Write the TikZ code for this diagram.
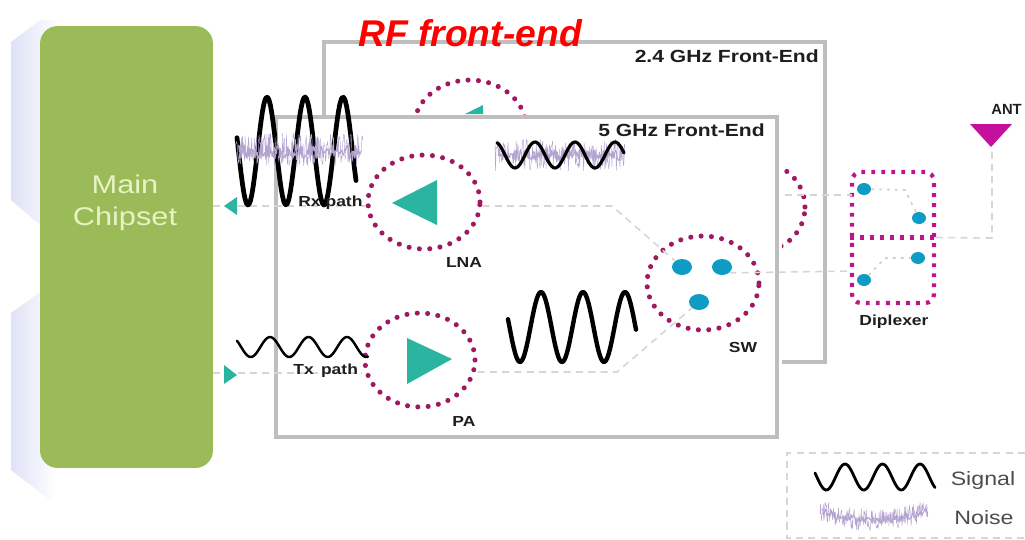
\documentclass[tikz,border=0pt]{standalone}
\usepackage{fontspec}
\setmainfont{Liberation Sans}
\newfontfamily\widefont[FakeStretch=1.2]{Liberation Sans}
\usetikzlibrary{shapes.geometric}
\definecolor{chipgreen}{RGB}{155,187,89}
\definecolor{chiptext}{RGB}{232,242,196}
\definecolor{shadeblue}{RGB}{222,226,245}
\definecolor{framegray}{RGB}{190,190,190}
\definecolor{pathgray}{RGB}{214,214,214}
\definecolor{ampteal}{RGB}{43,181,160}
\definecolor{dotpink}{RGB}{158,24,98}
\definecolor{dipink}{RGB}{190,20,140}
\definecolor{antpink}{RGB}{196,16,156}
\definecolor{switchblue}{RGB}{14,156,196}
\definecolor{noisepurple}{RGB}{180,165,208}
\definecolor{labelink}{RGB}{30,30,30}
\tikzset{
  chipbox/.style={fill=chipgreen, rounded corners=10pt, minimum width=3.46cm,
    minimum height=8.84cm, inner sep=0pt},
  chiplabel/.style={text=chiptext, align=center, inner sep=0pt,
    font=\widefont\fontsize{14.6}{18.2}\selectfont},
  framebox/.style={draw=framegray, line width=2.3pt, minimum width=10.04cm,
    minimum height=6.4cm, inner sep=0pt},
  ampring/.style={ellipse, draw=dotpink, line width=2.9pt, line cap=round,
    dash pattern=on 0pt off 5.9pt, inner sep=0pt, minimum width=2.24cm,
    minimum height=1.88cm},
  ampfill/.style={fill=ampteal},
  swdot/.style={ellipse, fill=switchblue, inner sep=0pt, minimum width=0.4cm,
    minimum height=0.32cm},
  dipdot/.style={ellipse, fill=switchblue, inner sep=0pt, minimum width=0.28cm,
    minimum height=0.24cm},
  dipline/.style={draw=dipink, line width=2.4pt, dash pattern=on 2.2pt off 3.5pt},
  pathline/.style={draw=pathgray, line width=0.9pt, dash pattern=on 4pt off 3pt},
  innerline/.style={draw=orange!15!pathgray, line width=0.9pt, dash pattern=on 1.5pt off 3pt},
  sigwave/.style={draw=black, line join=round, line cap=round},
  noiseedge/.style={draw=noisepurple, line width=0.25pt, line join=bevel},
  noisecore/.style={draw=noisepurple, line width=0.6pt, line join=bevel},
  blacklabel/.style={text=labelink, inner sep=0pt,
    font=\widefont\bfseries\fontsize{8.3}{10}\selectfont},
  titlelabel/.style={text=labelink, inner sep=0pt,
    font=\widefont\bfseries\fontsize{10}{12}\selectfont},
  keylabel/.style={text=black!70, inner sep=0pt, font=\widefont\fontsize{11}{13}\selectfont},
}
\begin{document}
\begin{tikzpicture}[x=0.02cm,y=-0.02cm]
  \useasboundingbox (0,0) rectangle (1025,539);
  \pgfmathsetseed{11}
  % pale blocks behind the chipset
  \shade[left color=shadeblue, right color=white] (11,42) -- (40,20) -- (60,20) -- (60,225) -- (40,225) -- (11,200) -- cycle;
  \shade[left color=shadeblue, right color=white] (11,313) -- (40,292) -- (56,292) -- (56,500) -- (50,500) -- (11,470) -- cycle;
  \node[chipbox] (chip) at (126.5,247) {};
  \node[chiplabel] (chipname) at (125,203) {Main\\Chipset};
  % 2.4 GHz front-end, mostly hidden
  \node[framebox] (backframe) at (574.5,202) {};
  \node[ampring] (backlna) at (470,127) {};
  \node[ampring, minimum width=1.76cm, minimum height=1.76cm] (backsw) at (761,207) {};
  \fill[ampfill] (465,114) -- (483,105) -- (483,114) -- cycle;
  \fill[white] (272,115) rectangle (782,441);
  % 5 GHz front-end
  \node[framebox] (frontframe) at (526.5,277) {};
  \node[titlelabel, anchor=east] (backname) at (819,56) {2.4 GHz Front-End};
  \node[titlelabel, anchor=east] (frontname) at (765,130) {5 GHz Front-End};
  \node[anchor=west, inner sep=0pt, text=red, font=\bfseries\itshape\fontsize{21.2}{24}\selectfont] (title) at (358,33) {RF front-end};
  % amplifiers and switch
  \node[ampring] (lna) at (424,202) {};
  \node[ampring, minimum width=2.2cm] (pa) at (420,360) {};
  \node[ampring] (sw) at (703,283) {};
  \node[swdot] (swa) at (682,267) {};
  \node[swdot] (swb) at (722,267) {};
  \node[swdot] (swc) at (699,302) {};
  % diplexer
  \node[dipdot] (dipa) at (864,189) {};
  \node[dipdot] (dipb) at (919,218) {};
  \node[dipdot] (dipc) at (918,258) {};
  \node[dipdot] (dipd) at (864,280) {};
  \node[dipline, rounded corners=5pt, minimum width=1.64cm, minimum height=2.62cm, inner sep=0pt] (dip) at (893,237.5) {};
  \draw[dipline] (dip.west) -- (dip.east);
  \coordinate (dipaturn) at (905,190);
  \coordinate (dipdturn) at (885,258);
  \draw[innerline] (dipa) -- (dipaturn) -- (dipb);
  \draw[innerline] (dipd) -- (dipdturn) -- (dipc);
  % signal paths
  \coordinate (rxout) at (213,206);
  \coordinate (txin) at (213,373);
  \coordinate (lnaturn) at (612,206);
  \coordinate (paturn) at (617,372);
  \coordinate (backtap) at (785,195);
  \coordinate (dipina) at (852,195);
  \coordinate (dipinb) at (852,271);
  \coordinate (antturn) at (992,238);
  \coordinate (anttap) at (992,150);
  \draw[pathline] (rxout) -- (rxout -| lna.west);
  \draw[pathline] (txin) -- (txin -| pa.west);
  \draw[pathline] (lnaturn -| lna.east) -- (lnaturn) -- (swa);
  \draw[pathline] (paturn -| pa.east) -- (paturn) -- (swc);
  \draw[pathline] (backtap) -- (dipina);
  \draw[pathline] (swb.south east) -- (dipinb);
  \draw[pathline] (dip.east) -- (antturn) -- (anttap);
  % arrowheads and antenna
  \fill[ampfill] (392,203) -- (437,180) -- (437,225) -- cycle;
  \fill[ampfill] (407,338) -- (452,359) -- (407,384) -- cycle;
  \fill[ampfill] (224,206) -- (237,197) -- (237,215) -- cycle;
  \fill[ampfill] (224,365) -- (237,375) -- (224,384) -- cycle;
  \fill[antpink] (970,124) -- (1012,124) -- (991,147) -- cycle;
  % waves
  \draw[sigwave, line width=2.7pt] plot[domain=237:356, samples=90] (\x, {151-54*cos((\x-267)/38*360)});
  \draw[noiseedge] plot[domain=235:363, samples=240] (\x, {150+17*rand});
  \draw[noisecore] plot[domain=238:360, samples=160] (\x, {152+7*rand});
  \draw[noiseedge] plot[domain=495:625, samples=240] (\x, {155+16*rand});
  \draw[noisecore] plot[domain=498:622, samples=160] (\x, {155+6*rand});
  \draw[sigwave, line width=1.8pt] plot[domain=497:624, samples=90] (\x, {155-13*cos((\x-535)/40*360)});
  \draw[sigwave, line width=1.4pt] plot[domain=237:368, samples=90] (\x, {347-10*cos((\x-270)/38.5*360)});
  \draw[sigwave, line width=2.5pt] plot[domain=508:636, samples=90] (\x, {327-35*cos((\x-541)/42*360)});
  % labels
  \node[blacklabel, anchor=west] (rxname) at (298,203) {Rx path};
  \node[blacklabel, anchor=west] (txname) at (293,371) {Tx\, path};
  \node[blacklabel] (lnaname) at (464,262) {LNA};
  \node[blacklabel] (paname) at (464,421) {PA};
  \node[blacklabel] (swname) at (743,347) {SW};
  \node[blacklabel] (dipname) at (894,322) {Diplexer};
  \node[blacklabel, anchor=west, font=\bfseries\fontsize{8.4}{10}\selectfont] (antname) at (991,109) {ANT};
  % legend
  \coordinate (keytl) at (787,453);
  \coordinate (keytr) at (1025,453);
  \coordinate (keybl) at (787,538);
  \coordinate (keybr) at (1025,538);
  \draw[pathline, line width=1.3pt] (keytr) -- (keytl) -- (keybl) -- (keybr);
  \draw[sigwave, line width=1.6pt] plot[domain=815:935, samples=90] (\x, {477-13*cos((\x-845)/37.5*360)});
  \draw[noiseedge] plot[domain=820:928, samples=200] (\x, {520-10*((\x-874)/54)^2+11*rand});
  \draw[noisecore] plot[domain=822:926, samples=130] (\x, {520-10*((\x-874)/54)^2+4*rand});
  \node[keylabel] (signalname) at (983,480) {Signal};
  \node[keylabel] (noisename) at (984,518) {Noise};
\end{tikzpicture}
\end{document}
